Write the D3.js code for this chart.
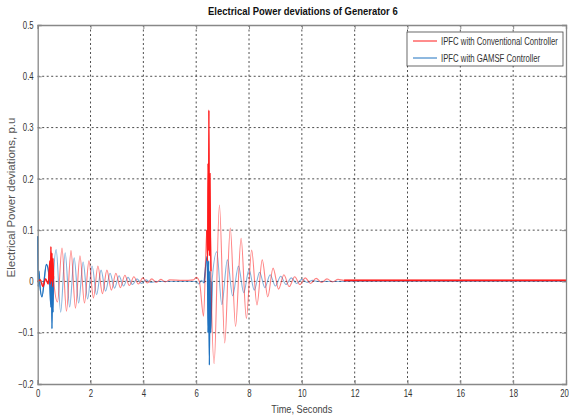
<!DOCTYPE html>
<html><head><meta charset="utf-8">
<script src="https://cdn.jsdelivr.net/npm/d3@7"></script>
<style>
html,body{margin:0;padding:0;background:#fff;}
svg{display:block;}
</style></head>
<body>
<svg id="chart" width="569" height="419"></svg>
<script>
// ---------- data ----------
const title = "Electrical Power deviations of Generator 6";
const xLabel = "Time, Seconds";
const yLabel = "Electrical Power deviations, p.u";
const seriesNames = ["IPFC with Conventional Controller", "IPFC with GAMSF Controller"];
const xTicks = [0, 2, 4, 6, 8, 10, 12, 14, 16, 18, 20];
const yTicks = [-0.2, -0.1, 0, 0.1, 0.2, 0.3, 0.4, 0.5];

// IPFC with Conventional Controller (red)
const convT = [0, 0.1, 0.2, 0.3, 0.4,
  0.46, 0.48, 0.5, 0.52, 0.54, 0.56, 0.58, 0.6,
  0.75, 0.92, 1.09, 1.26, 1.43, 1.6, 1.77, 1.94, 2.11, 2.28, 2.45, 2.62, 2.79, 2.96,
  3.13, 3.3, 3.47, 3.64, 3.81, 3.98, 4.15, 4.32, 4.49, 4.66, 4.83, 5.0, 5.5, 5.9, 6.0, 6.12,
  6.28, 6.4, 6.43, 6.45, 6.47, 6.48, 6.5, 6.52, 6.54, 6.56,
  6.68, 6.88, 7.08, 7.29, 7.49, 7.7, 7.9, 8.1, 8.3, 8.5, 8.71, 8.91, 9.12, 9.32, 9.52,
  9.73, 9.93, 10.13, 10.33, 10.54, 10.75, 10.95, 11.16, 11.37, 11.6, 12, 16, 20];
const convV = [0, 0.003, -0.01, 0.005, -0.005,
  0.04, -0.005, 0.068, 0.0, 0.055, -0.01, 0.045, 0.005,
  -0.04, 0.065, -0.058, 0.06, -0.052, 0.05, -0.042, 0.04, -0.032, 0.03, -0.024, 0.022, -0.017, 0.016,
  -0.012, 0.012, -0.008, 0.009, -0.005, 0.007, -0.003, 0.005, -0.002, 0.004, -0.001, 0.003, 0.002, 0.003, 0.008, 0.0,
  -0.068, 0.1, 0.04, 0.23, 0.06, 0.334, 0.05, 0.21, 0.09, 0.02,
  -0.16, 0.149, -0.12, 0.104, -0.088, 0.084, -0.072, 0.061, -0.046, 0.042, -0.03, 0.026, -0.015, 0.013, -0.01,
  0.009, -0.006, 0.007, -0.004, 0.006, -0.002, 0.005, -0.001, 0.004, 0.002, 0.002, 0.002, 0.002];

// IPFC with GAMSF Controller (blue)
const gamsfT = [0, 0.02, 0.05, 0.08, 0.16, 0.33, 0.45,
  0.5, 0.52, 0.54, 0.56, 0.58, 0.6,
  0.7, 0.87, 1.04, 1.21, 1.38, 1.55, 1.72, 1.89, 2.06, 2.23, 2.4, 2.57, 2.74, 2.91,
  3.08, 3.25, 3.42, 3.59, 3.76, 3.93, 4.1, 4.27, 4.5, 6.0, 6.1, 6.2, 6.3,
  6.42, 6.45, 6.47, 6.5, 6.52, 6.55, 6.6,
  6.78, 6.97, 7.18, 7.38, 7.6, 7.8, 8.0, 8.2, 8.4, 8.6, 8.8, 9.0, 9.2, 9.4, 9.6, 9.8,
  10.0, 10.2, 10.4, 10.6, 20];
const gamsfV = [0.088, -0.01, 0.02, -0.005, -0.03, 0.033, 0.0,
  -0.05, 0.02, -0.092, 0.0, -0.06, 0.01,
  0.062, -0.06, 0.056, -0.05, 0.046, -0.042, 0.038, -0.034, 0.03, -0.026, 0.022, -0.019, 0.016, -0.013,
  0.011, -0.009, 0.008, -0.006, 0.005, -0.004, 0.003, -0.002, 0, 0, -0.005, 0.002, -0.003,
  0.05, -0.1, 0.04, -0.163, 0.02, -0.1, 0.0,
  0.058, -0.045, 0.042, -0.028, 0.03, -0.022, 0.023, -0.017, 0.018, -0.012, 0.013, -0.009, 0.01, -0.006, 0.007, -0.004,
  0.004, -0.002, 0.002, 0, 0];

// time windows where the traces are dense (drawn darker in the reference)
const denseWindows = [[0, 0.62], [6.3, 6.6]];

const colors = ["#ff1a1a", "#1f72c0"];

// ---------- layout ----------
const svg = d3.select("#chart");
const L = 37.7, R = 566, T = 25, B = 384;
const x = d3.scaleLinear().domain([0, 20]).range([L, R]);
const y = d3.scaleLinear().domain([-0.2, 0.5]).range([B, T]);
const font = "'Liberation Sans', Arial, sans-serif";

// condense horizontal text (reference is horizontally squeezed) with a real transform
function squeeze(sel, k) {
  sel.each(function () {
    const s = d3.select(this);
    const x0 = +(s.attr("x") || 0);
    const y0 = +(s.attr("y") || 0);
    s.attr("x", 0).attr("y", 0)
     .attr("transform", `translate(${x0},${y0}) scale(${k},1)`);
  });
}

// grid
const grid = svg.append("g");
grid.selectAll("line.gx").data(xTicks.slice(1, -1)).enter().append("line")
  .attr("x1", d => x(d)).attr("x2", d => x(d)).attr("y1", T).attr("y2", B)
  .attr("stroke", "#222").attr("stroke-width", 0.8).attr("stroke-dasharray", "2,2.5");
grid.selectAll("line.gy").data(yTicks.slice(1, -1)).enter().append("line")
  .attr("x1", L).attr("x2", R).attr("y1", d => y(d)).attr("y2", d => y(d))
  .attr("stroke", "#222").attr("stroke-width", 0.8).attr("stroke-dasharray", "2,2.5");

// lines
const line = d3.line().curve(d3.curveMonotoneX).x(d => x(d[0])).y(d => y(d[1]));
const conv = convT.map((t, i) => [t, convV[i]]);
const gamsf = gamsfT.map((t, i) => [t, gamsfV[i]]);
[[gamsf, colors[1]], [conv, colors[0]]].forEach(([data, c]) => {
  svg.append("path").datum(data).attr("d", line).attr("fill", "none")
    .attr("stroke", c).attr("stroke-width", 1.1).attr("stroke-opacity", 0.55);
  denseWindows.forEach(w => {
    const seg = data.filter(d => d[0] >= w[0] && d[0] <= w[1]);
    svg.append("path").datum(seg).attr("d", line).attr("fill", "none")
      .attr("stroke", c).attr("stroke-width", 1.3);
  });
  const tail = data.filter(d => d[0] >= 11.6);
  svg.append("path").datum(tail).attr("d", line).attr("fill", "none")
    .attr("stroke", c).attr("stroke-width", c === colors[0] ? 1.8 : 1.2);
});

// axes
const axB = svg.append("g").attr("transform", `translate(0,${B})`)
  .call(d3.axisBottom(x).tickValues(xTicks).tickSize(-4).tickPadding(6).tickFormat(d3.format("d")));
const axT = svg.append("g").attr("transform", `translate(0,${T})`)
  .call(d3.axisTop(x).tickValues(xTicks).tickSize(-4).tickFormat(""));
const axL = svg.append("g").attr("transform", `translate(${L},0)`)
  .call(d3.axisLeft(y).tickValues(yTicks).tickSize(-4).tickPadding(4).tickFormat(d => d3.format("")(+d.toFixed(1))));
const axR = svg.append("g").attr("transform", `translate(${R},0)`)
  .call(d3.axisRight(y).tickValues(yTicks).tickSize(-4).tickFormat(""));
[axB, axT, axL, axR].forEach(g => {
  g.select(".domain").attr("stroke", "#888").attr("stroke-width", 1.3);
  g.selectAll(".tick line").attr("stroke", "#888");
  g.selectAll("text").attr("font-family", font).attr("font-size", 10).attr("fill", "#333");
});
squeeze(axB.selectAll(".tick text"), 0.78);
squeeze(axL.selectAll(".tick text"), 0.78);
// keep the last x tick label inside the picture
axB.selectAll(".tick text").filter(d => d === 20).attr("text-anchor", "end").attr("x", 3);

// title & labels
const tt = svg.append("text").attr("x", (L + R) / 2 + 1).attr("y", 15).attr("text-anchor", "middle")
  .attr("font-family", font).attr("font-weight", "bold").attr("font-size", 11).attr("fill", "#111").text(title);
squeeze(tt, 0.86);
const xl = svg.append("text").attr("x", (L + R) / 2).attr("y", 413).attr("text-anchor", "middle")
  .attr("font-family", font).attr("font-size", 11.5).attr("fill", "#444").text(xLabel);
squeeze(xl, 0.8);
svg.append("text").attr("transform", `translate(15,${(T + B) / 2 - 7}) rotate(-90)`).attr("text-anchor", "middle")
  .attr("font-family", font).attr("font-size", 11.5).attr("fill", "#555").text(yLabel);

// legend
const lg = svg.append("g");
lg.append("rect").attr("x", 407).attr("y", 32).attr("width", 156).attr("height", 34)
  .attr("fill", "#fff").attr("stroke", "#444").attr("stroke-width", 0.8);
seriesNames.forEach((n, i) => {
  const yy = 41 + i * 17;
  lg.append("line").attr("x1", 413).attr("x2", 437).attr("y1", yy).attr("y2", yy)
    .attr("stroke", colors[i]).attr("stroke-width", 1);
  const t = lg.append("text").attr("x", 441).attr("y", yy + 3.5).attr("font-family", font)
    .attr("font-size", 10.5).attr("fill", "#333").text(n);
  squeeze(t, 0.74);
});
</script>
</body></html>
